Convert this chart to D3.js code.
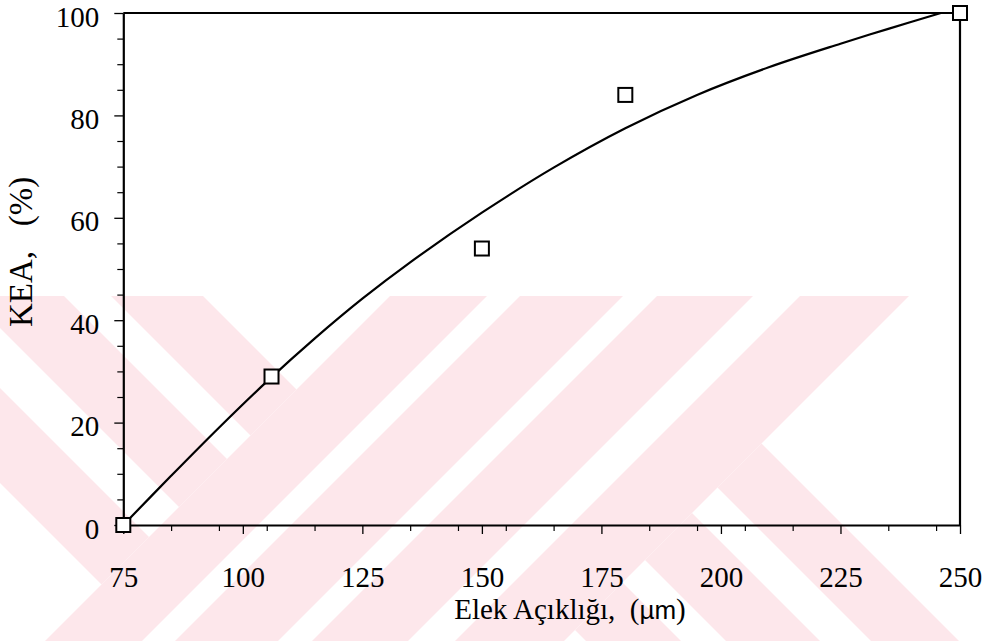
<!DOCTYPE html>
<html><head><meta charset="utf-8">
<script src="https://cdn.jsdelivr.net/npm/d3@7"></script>
<style>
body{margin:0;background:#fff}
svg{display:block}
text{font-family:"Liberation Serif","Times New Roman",serif;fill:#000}
</style>
</head><body>
<svg id="chart" width="989" height="641"></svg>
<script>
// ---- data ----
const sieveSizes = [75, 106, 150, 180, 250];
const keaValues  = [0, 29, 54, 84, 100];
const fitX = [75, 85, 95, 105, 115, 125, 135, 150, 165, 180, 195, 210, 225, 235, 246];
const fitY = [0, 9.6, 19, 28, 36.4, 44.2, 51.3, 61, 69.8, 77.5, 84, 89.4, 94, 96.9, 100];
const xMajorTicks = [75, 100, 125, 150, 175, 200, 225, 250];
const xMinorTicks = [85, 95, 105, 115, 135, 145, 155, 165, 185, 195, 205, 215, 235, 245];
const yMajorTicks = [0, 20, 40, 60, 80, 100];
const yMinorTicks = [5, 10, 15, 25, 30, 35, 45, 50, 55, 65, 70, 75, 85, 90, 95];
const xTitle = "Elek Açıklığı,  (";
const xUnit = "µm";
const yTitle = "KEA,   (%)";

// ---- background watermark geometry (decorative) ----
const slashBands = [[686, 783], [816, 919], [953, 1049], [1096, 1205]];
const leftBackBands = [[-483, -388], [-328, -232], [-185, -93]];
const rightBackBands = [[-55, 40], [85, 179], [230, 318]];
const wmLeftLimit = 686, wmRightLimit = 1205, wmTop = 296;

const svg = d3.select("#chart");
const W = 989, H = 641;
const x = d3.scaleLinear().domain([75, 250]).range([123.3, 960]);
const y = d3.scaleLinear().domain([0, 100]).range([525, 13]);

// watermark
const defs = svg.append("defs");
defs.append("clipPath").attr("id", "wmclip").append("rect")
  .attr("x", 0).attr("y", wmTop).attr("width", W).attr("height", H - wmTop);
const wm = svg.append("g").attr("clip-path", "url(#wmclip)").attr("fill", "#fde7eb");
const polys = [];
slashBands.forEach(([a, b]) => polys.push([[a, 0], [b, 0], [b - 800, 800], [a - 800, 800]]));
leftBackBands.forEach(([a, b]) => polys.push([[a, 0], [b, 0],
  [(wmLeftLimit + b) / 2, (wmLeftLimit - b) / 2], [(wmLeftLimit + a) / 2, (wmLeftLimit - a) / 2]]));
rightBackBands.forEach(([a, b]) => polys.push([[(wmRightLimit + a) / 2, (wmRightLimit - a) / 2],
  [(wmRightLimit + b) / 2, (wmRightLimit - b) / 2], [b + 800, 800], [a + 800, 800]]));
wm.selectAll("polygon").data(polys).join("polygon")
  .attr("points", d => d.map(p => p.join(",")).join(" "));

const fs = 29;

// minor ticks
svg.append("g").attr("transform", `translate(0,${y(0)})`)
  .call(d3.axisBottom(x).tickValues(xMinorTicks).tickSize(6).tickSizeOuter(0).tickFormat(""))
  .call(g => g.select(".domain").remove())
  .call(g => g.selectAll("line").attr("stroke-width", 1.2));
svg.append("g").attr("transform", `translate(${x(75)},0)`)
  .call(d3.axisLeft(y).tickValues(yMinorTicks).tickSize(6).tickSizeOuter(0).tickFormat(""))
  .call(g => g.select(".domain").remove())
  .call(g => g.selectAll("line").attr("stroke-width", 1.2));

// major axes
const xAxis = svg.append("g").attr("transform", `translate(0,${y(0)})`)
  .call(d3.axisBottom(x).tickValues(xMajorTicks).tickSize(9).tickSizeOuter(0).tickPadding(0));
xAxis.select(".domain").attr("stroke-width", 2.2);
xAxis.selectAll("line").attr("stroke-width", 1.3);
xAxis.selectAll("text").attr("font-size", fs).attr("y", 0).attr("dy", 62).attr("font-family", null);

const yAxis = svg.append("g").attr("transform", `translate(${x(75)},0)`)
  .call(d3.axisLeft(y).tickValues(yMajorTicks).tickSize(9).tickSizeOuter(0).tickPadding(0));
yAxis.select(".domain").attr("stroke-width", 2.2);
yAxis.selectAll("line").attr("stroke-width", 1.3);
yAxis.selectAll("text").attr("font-size", fs).attr("x", -24).attr("dy", 13).attr("font-family", null);

// frame top / right
svg.append("path")
  .attr("d", `M${x(75)},${y(100)}H${x(250)}V${y(0)}`)
  .attr("fill", "none").attr("stroke", "#000").attr("stroke-width", 2.2);

// fitted curve
const line = d3.line().x((d, i) => x(fitX[i])).y(d => y(d)).curve(d3.curveCatmullRom.alpha(0.5));
svg.append("path").datum(fitY).attr("d", line)
  .attr("fill", "none").attr("stroke", "#000").attr("stroke-width", 2.2);

// markers
const sz = 14;
svg.append("g").selectAll("rect").data(keaValues).join("rect")
  .attr("x", (d, i) => x(sieveSizes[i]) - sz / 2)
  .attr("y", d => y(d) - sz / 2)
  .attr("width", sz).attr("height", sz)
  .attr("fill", "#fff").attr("stroke", "#000").attr("stroke-width", 2);

// titles
const xt = svg.append("text").attr("x", 570).attr("y", 619).attr("text-anchor", "middle")
  .attr("font-size", fs).style("white-space", "pre");
xt.append("tspan").text(xTitle);
xt.append("tspan").attr("font-family", "'Liberation Sans',Arial,sans-serif").attr("font-size", fs - 3).text(xUnit);
xt.append("tspan").text(")");

svg.append("text").attr("transform", "translate(32,327) rotate(-90)")
  .attr("text-anchor", "start").attr("font-size", 33).style("white-space", "pre").text(yTitle);
</script>
</body></html>
